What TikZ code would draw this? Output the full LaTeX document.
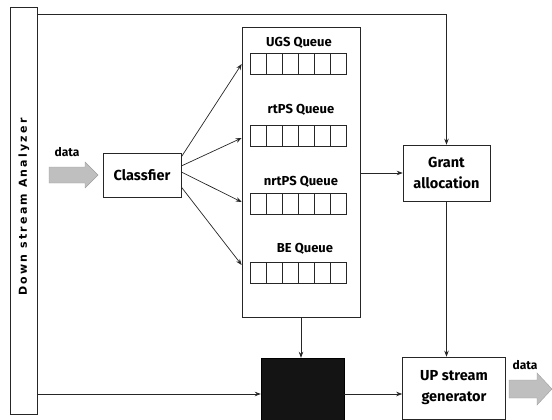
\documentclass[tikz,border=0pt]{standalone}
\usepackage{fontspec}
\setmainfont{Fira Sans}
\newfontfamily\barfont[LetterSpace=20]{DejaVu Sans}
\usetikzlibrary{arrows.meta}
\begin{document}
\begin{tikzpicture}[x=1pt,y=-1pt,
  ln/.style={draw=black!85, line width=0.7pt},
  arr/.style={ln, -{Stealth[length=6pt,width=4.5pt]}},
  box/.style={draw=black!85, line width=0.6pt, rectangle, inner sep=0pt, align=center,
    font=\bfseries\fontsize{14.5}{21}\selectfont},
  cell/.style={draw=black!85, line width=0.5pt, minimum width=16pt, minimum height=21pt, inner sep=0pt},
  qlabel/.style={font=\bfseries\fontsize{13}{15}\selectfont, inner sep=0pt},
  datalabel/.style={font=\bfseries\fontsize{12}{14}\selectfont, inner sep=0pt},
  datafill/.style={fill=gray!50, draw=gray!75, line width=0.4pt},
  bartext/.style={font=\barfont\bfseries\fontsize{11}{13}\selectfont, inner sep=0pt}
]
\useasboundingbox (0,0) rectangle (552,420);
% analyzer bar
\node[box, minimum width=27pt, minimum height=407pt] (bar) at (23.5,210.5) {};
\node[bartext, rotate=90] (bartxt) at (24,207) {Down stream Analyzer};
% classifier
\node[box, minimum width=78pt, minimum height=44pt] (clas) at (142,175) {Classfier};
% queue container
\node[box, minimum width=118pt, minimum height=290pt] (qbox) at (301,172) {};
\node[qlabel] (lu) at (299,43) {UGS Queue};
\node[qlabel] (lr) at (301,110) {rtPS Queue};
\node[qlabel] (ln) at (301,182) {nrtPS Queue};
\node[qlabel] (lb) at (305,249) {BE Queue};
\foreach \q/\yy in {u/64, r/136, n/204, b/273} {
  \foreach \i in {0,...,5} {
    \node[cell] (\q\i) at (258+16*\i,\yy) {};
  }
}
% grant
\node[box, minimum width=87pt, minimum height=56pt] (grant) at (446.5,173) {Grant\\allocation};
% dark box
\node[draw=black, fill=black!92, minimum width=83pt, minimum height=62pt, inner sep=0pt] (dark) at (302.5,389) {};
% upstream generator
\node[box, minimum width=103pt, minimum height=62pt] (up) at (454,388) {UP stream\\generator};
% data arrows
\fill[datafill] (49,167) -- (85,167) -- (85,162) -- (98,175) -- (85,188) -- (85,183) -- (49,183) -- cycle;
\node[datalabel] (din) at (67,152) {data};
\fill[datafill] (509,380) -- (537,380) -- (537,373) -- (552,389) -- (537,405) -- (537,398) -- (509,398) -- cycle;
\node[datalabel] (dout) at (525,365) {data};
% connectors
\draw[arr] ([yshift=18pt]clas.east) -- (qbox.west |- u0.west);
\draw[arr] ([yshift=9pt]clas.east) -- ([yshift=-2pt]qbox.west |- r0.west);
\draw[arr] ([yshift=3pt]clas.east) -- ([yshift=2pt]qbox.west |- n0.west);
\draw[arr] ([yshift=-12pt]clas.east) -- ([yshift=8pt]qbox.west |- b0.west);
\draw[arr] ([yshift=-8pt]bar.north east) -| (grant.north);
\draw[arr] (qbox.east |- grant.west) -- (grant.west);
\draw[arr] (qbox.south) -- (qbox.south |- dark.north);
\draw[arr] (grant.south) -- (grant.south |- up.north);
\draw[arr] (bar.east |- 0,394) -- (dark.west |- 0,394);
\draw[arr] (dark.east |- 0,394) -- (up.west |- 0,394);
\end{tikzpicture}
\end{document}
